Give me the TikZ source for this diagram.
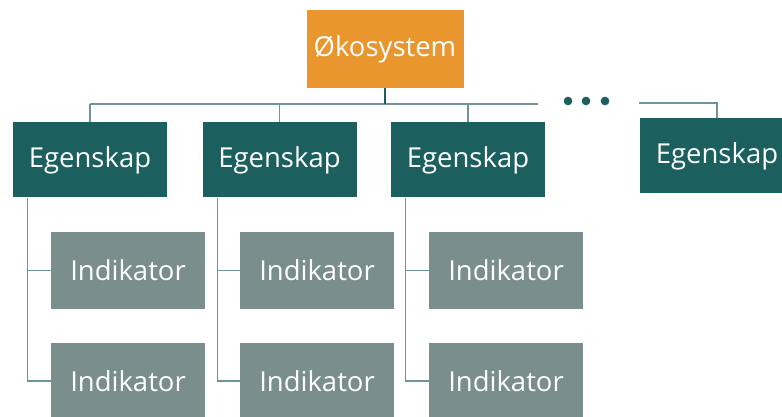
\documentclass[tikz,border=0pt]{standalone}
\usepackage{fontspec}
\setmainfont{Open Sans}
\usepackage{tikz}
\definecolor{okofarge}{HTML}{E8962D}
\definecolor{egfarge}{HTML}{1B5F5E}
\definecolor{indfarge}{HTML}{7A8E8D}
\definecolor{linjefarge}{HTML}{6C9694}
\tikzstyle{link} = [draw=linjefarge,line width=1.1pt]

\begin{document}
\begin{tikzpicture}
		[
		x=0.75pt,y=-0.75pt,
		block/.style={
		rectangle,
		inner sep=0pt,
		text=white,
		font=\fontsize{20.6}{24}\selectfont},
		eg/.style={block,fill=egfarge,minimum width=115.5pt,minimum height=56.25pt},
		ind/.style={block,fill=indfarge,minimum width=115.5pt,minimum height=57.75pt},
		dot/.style={circle,fill=egfarge,inner sep=0pt,minimum size=6.5pt}
		]
		\useasboundingbox (0,0) rectangle (782,417);
		\node[block,fill=okofarge,minimum width=117.75pt,minimum height=58.5pt](oko) at (385,49) {Økosystem};
		\node[eg](eg1) at (90,160) {Egenskap};
		\node[eg](eg2) at (279.5,160) {Egenskap};
		\node[eg](eg3) at (468,160) {Egenskap};
		\node[eg](eg4) at (717,156) {Egenskap};
		\node[ind](ind1a) at (128,270.5) {Indikator};
		\node[ind](ind1b) at (128,381) {Indikator};
		\node[ind](ind2a) at (317,270.5) {Indikator};
		\node[ind](ind2b) at (317,381) {Indikator};
		\node[ind](ind3a) at (506,270.5) {Indikator};
		\node[ind](ind3b) at (506,381) {Indikator};
		\node[dot](dot1) at (568,101) {};
		\node[dot](dot2) at (586,101) {};
		\node[dot](dot3) at (605,101) {};
		% bus
		\coordinate (busl) at (90,104);
		\coordinate (busr) at (538,104);
		\coordinate (busx) at (639,103);
		\draw[link] (busl) -- (busr);
		\draw[link,draw=egfarge] (oko.south) -- (oko.south |- busl);
		\draw[link] (eg1.north |- busl) -- (eg1.north);
		\draw[link] (eg2.north |- busl) -- (eg2.north);
		\draw[link] (eg3.north |- busl) -- (eg3.north);
		\draw[link] (busx) -| (eg4.north);
		% egenskap til indikator
		\coordinate (s1) at ([xshift=11.25pt]eg1.south west);
		\coordinate (s2) at ([xshift=11.25pt]eg2.south west);
		\coordinate (s3) at ([xshift=11.25pt]eg3.south west);
		\draw[link] (s1) |- (ind1b.west);
		\draw[link] (s1 |- ind1a.west) -- (ind1a.west);
		\draw[link] (s2) |- (ind2b.west);
		\draw[link] (s2 |- ind2a.west) -- (ind2a.west);
		\draw[link] (s3) |- (ind3b.west);
		\draw[link] (s3 |- ind3a.west) -- (ind3a.west);
		\end{tikzpicture}
\end{document}
